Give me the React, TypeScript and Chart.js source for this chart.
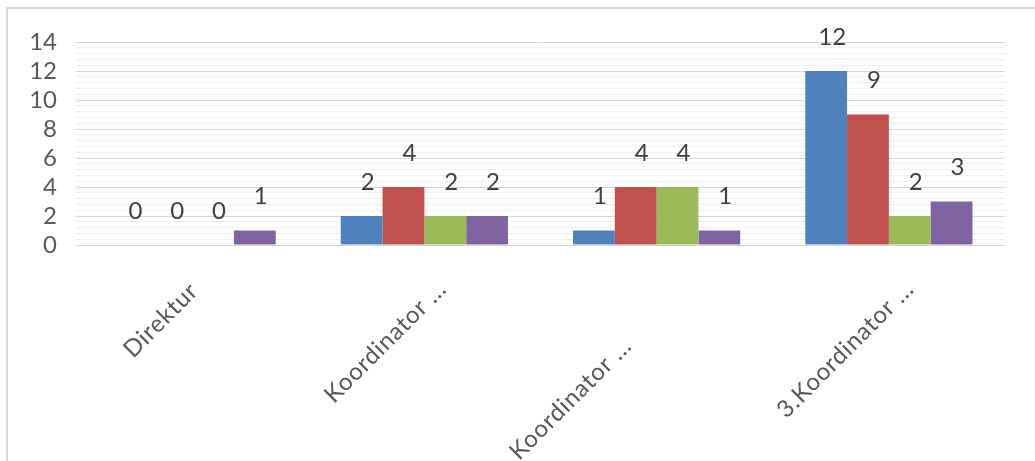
import { useEffect, useRef } from "react";
import { Chart, registerables } from "chart.js";

Chart.register(...registerables);

const categories = ["Direktur", "Koordinator ...", "Koordinator ...", "3.Koordinator ..."];
const seriesNames = ["Series 1", "Series 2", "Series 3", "Series 4"];
const series1 = [0, 2, 1, 12];
const series2 = [0, 4, 4, 9];
const series3 = [0, 2, 4, 2];
const series4 = [1, 2, 1, 3];
const yTickLabels = [0, 2, 4, 6, 8, 10, 12, 14];
const seriesColors = ["#4F81BD", "#C0504D", "#9BBB59", "#8064A2"];

const FONT = "Lato, 'Open Sans', sans-serif";

const dataLabelPlugin = {
  id: "dataLabels",
  afterDatasetsDraw(chart: any) {
    const ctx = chart.ctx;
    ctx.save();
    ctx.font = `24px ${FONT}`;
    ctx.fillStyle = "#404040";
    ctx.textAlign = "center";
    ctx.textBaseline = "middle";
    chart.data.datasets.forEach((ds: any, di: number) => {
      const meta = chart.getDatasetMeta(di);
      meta.data.forEach((el: any, i: number) => {
        ctx.fillText(String(ds.data[i]), el.x + 6, el.y - 34);
      });
    });
    ctx.restore();
  },
};

const xLabelPlugin = {
  id: "xLabels",
  afterDraw(chart: any) {
    const ctx = chart.ctx;
    const xs = chart.scales.x;
    const bottom = chart.chartArea.bottom;
    const shifts = [
      [2, 42],
      [18, 40],
      [-29, 97],
      [21, 40],
    ];
    ctx.save();
    ctx.font = `24px ${FONT}`;
    ctx.fillStyle = "#595959";
    ctx.textAlign = "right";
    ctx.textBaseline = "middle";
    try {
      (ctx as any).letterSpacing = "0.8px";
    } catch (e) {}
    categories.forEach((label, i) => {
      const x = xs.getPixelForValue(i) + shifts[i][0];
      const y = bottom + shifts[i][1];
      ctx.save();
      ctx.translate(x, y);
      ctx.rotate(-Math.PI / 4);
      ctx.fillText(label, 0, 0);
      ctx.restore();
    });
    ctx.restore();
  },
};

const isMajor = (v: number) => yTickLabels.some((t) => Math.abs(t - v) < 1e-6);

export default function App() {
  const canvasRef = useRef<HTMLCanvasElement | null>(null);

  useEffect(() => {
    const canvas = canvasRef.current;
    if (!canvas) return;
    const allSeries = [series1, series2, series3, series4];
    const chart = new Chart(canvas, {
      type: "bar",
      data: {
        labels: categories,
        datasets: allSeries.map((d, i) => ({
          label: seriesNames[i],
          data: d,
          backgroundColor: seriesColors[i],
          borderWidth: 0,
          categoryPercentage: 0.72,
          barPercentage: 1,
        })),
      },
      options: {
        animation: false,
        responsive: false,
        devicePixelRatio: 1,
        layout: { padding: { left: 0, right: 30, top: 42, bottom: 0 } },
        plugins: {
          legend: { display: false },
          tooltip: { enabled: false },
        },
        scales: {
          x: {
            grid: { display: false },
            border: { display: false },
            ticks: { display: false },
            afterFit: (scale: any) => {
              scale.height = 216;
            },
          },
          y: {
            min: 0,
            max: 14,
            border: { display: false },
            grid: {
              drawTicks: false,
              tickLength: 0,
              color: (c: any) => (isMajor(c.tick.value) ? "#d6d6d6" : "#eeeeee"),
              lineWidth: 1,
            },
            ticks: {
              stepSize: 0.4,
              autoSkip: false,
              padding: 19,
              color: "#595959",
              font: { family: FONT, size: 24 },
              callback: (v: any) => (isMajor(Number(v)) ? String(Math.round(Number(v))) : ""),
            },
            afterFit: (scale: any) => {
              scale.width = 76;
            },
          },
        },
      },
      plugins: [dataLabelPlugin, xLabelPlugin],
    });
    return () => chart.destroy();
  }, []);

  return (
    <div
      style={{
        position: "fixed",
        left: 0,
        top: 0,
        width: 1035,
        height: 461,
        overflow: "hidden",
        background: "#ffffff",
      }}
    >
      <div
        style={{
          position: "absolute",
          left: 6,
          top: 7,
          width: 1060,
          height: 480,
          border: "2px solid #d9d9d9",
          boxSizing: "border-box",
        }}
      />
      <canvas
        ref={canvasRef}
        width={1035}
        height={461}
        style={{ position: "absolute", left: 0, top: 0, width: 1035, height: 461 }}
      />
    </div>
  );
}
